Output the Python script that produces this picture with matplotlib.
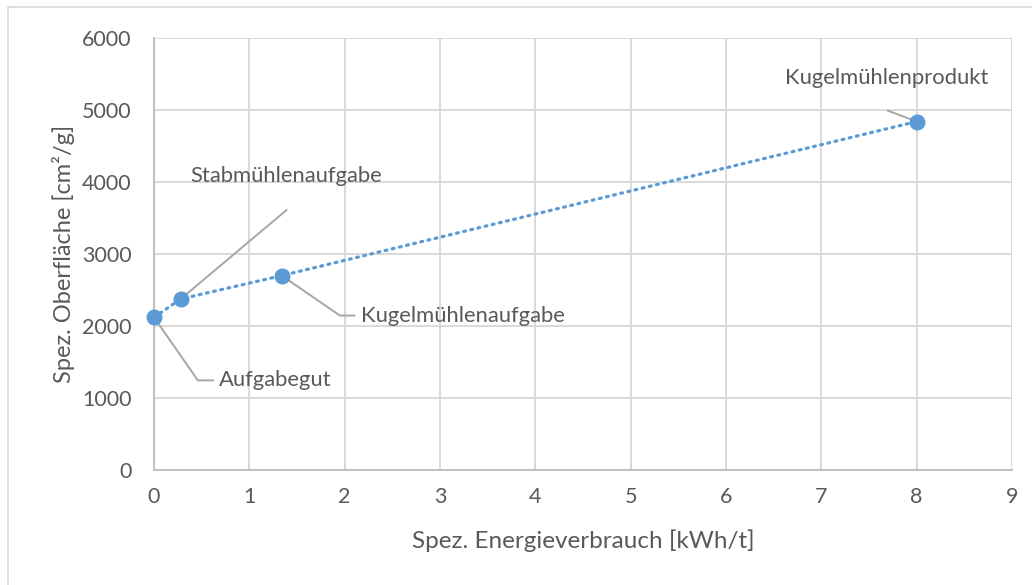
import matplotlib
matplotlib.use("Agg")
import matplotlib.pyplot as plt
from matplotlib.patches import Rectangle

# Data
energy = [0.0, 0.28, 1.34, 8.0]
surface = [2120, 2375, 2700, 4840]
labels = ["Aufgabegut", "Stabmühlenaufgabe", "Kugelmühlenaufgabe", "Kugelmühlenprodukt"]
xticks = list(range(0, 10))
yticks = list(range(0, 7000, 1000))

plt.rcParams['font.family'] = ['Lato', 'DejaVu Sans']

W, H = 1032, 585
fig = plt.figure(figsize=(W / 100, H / 100), dpi=100)
ax = fig.add_axes([154 / W, 1 - 470 / H, (1012 - 154) / W, (470 - 38) / H])

# Outer chart border
fig.patches.append(Rectangle((8 / W, -0.1), 1.2, 1 - 7 / H + 0.1, transform=fig.transFigure,
                             fill=False, edgecolor='#d9d9d9', lw=1.2))

blue = '#5b9bd5'
grey_txt = '#595959'
ax.plot(energy, surface, linestyle=(0, (0.6, 1.7)), color=blue, lw=2.3,
        dash_capstyle='round', zorder=3, clip_on=False)
ax.plot(energy, surface, linestyle='none', marker='o', ms=10.5, color=blue,
        zorder=4, clip_on=False)

ax.set_xlim(0, 9)
ax.set_ylim(0, 6000)
ax.set_xticks(xticks)
ax.set_yticks(yticks)
ax.grid(True, color='#d9d9d9', lw=1.4)
ax.set_axisbelow(True)
for s in ['top', 'right']:
    ax.spines[s].set_visible(False)
for s in ['left', 'bottom']:
    ax.spines[s].set_color('#bfbfbf')
    ax.spines[s].set_linewidth(1.4)
ax.tick_params(length=0, labelsize=15.5, labelcolor=grey_txt)
ax.tick_params(axis='x', pad=12)
ax.tick_params(axis='y', pad=16)

ax.set_xlabel("Spez. Energieverbrauch [kWh/t]", fontsize=17.5, color=grey_txt, labelpad=16)
ax.set_ylabel("Spez. Oberfläche [cm²/g]", fontsize=17.0, color=grey_txt, labelpad=5)

# Data labels with leader lines (offsets in data units)
lead = '#a6a6a6'
def annotate(i, pts, txt_xy, ha, va='center'):
    xs = [energy[i]] + [p[0] for p in pts]
    ys = [surface[i]] + [p[1] for p in pts]
    ax.plot(xs, ys, color=lead, lw=1.4, zorder=2, clip_on=False)
    ax.text(txt_xy[0], txt_xy[1], labels[i], ha=ha, va=va, fontsize=15.8, color=grey_txt)

annotate(0, [(energy[0] + 0.46, surface[0] - 875), (energy[0] + 0.62, surface[0] - 875)],
         (energy[0] + 0.68, surface[0] - 875), 'left')
annotate(1, [(energy[1] + 1.11, surface[1] + 1235)],
         (energy[1] + 1.11, surface[1] + 1705), 'center')
annotate(2, [(energy[2] + 0.61, surface[2] - 555), (energy[2] + 0.76, surface[2] - 555)],
         (energy[2] + 0.83, surface[2] - 555), 'left')
annotate(3, [(energy[3] - 0.30, surface[3] + 150)],
         (energy[3] - 0.31, surface[3] + 600), 'center')

fig.savefig("out.png", dpi=100)
